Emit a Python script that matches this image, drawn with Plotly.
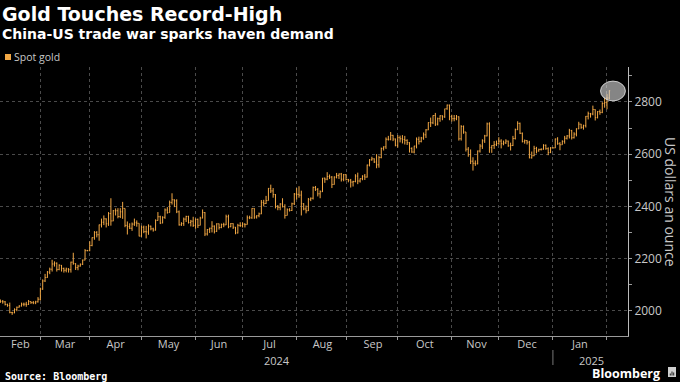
import pandas as pd
import plotly.graph_objects as go

title = "Gold Touches Record-High"
subtitle = "China-US trade war sparks haven demand"
series_name = "Spot gold"
source_text = "Source: Bloomberg"
brand_text = "Bloomberg"
y_title = "US dollars an ounce"
y_ticks = [2000, 2200, 2400, 2600, 2800]
year_labels = ["2024", "2025"]

start_date = "2024-02-07"
end_date = "2025-02-04"
first_open = 2037

close_feb24 = [2035, 2034, 2024, 2020, 1993, 1992, 2004, 2013, 2018, 2025, 2025, 2024, 2035, 2031, 2030, 2034, 2044]
high_feb24 = [2043, 2041, 2037, 2027, 2031, 1996, 2009, 2016, 2021, 2031, 2031, 2034, 2041, 2036, 2037, 2038, 2052]
low_feb24 = [2030, 2027, 2020, 2015, 1990, 1984, 1990, 1998, 2012, 2016, 2017, 2015, 2022, 2026, 2025, 2025, 2031]

close_mar24 = [2083, 2114, 2127, 2148, 2159, 2179, 2182, 2158, 2174, 2162, 2155, 2160, 2157, 2186, 2181, 2165, 2171, 2178, 2194, 2230, 2230]
high_mar24 = [2088, 2120, 2141, 2152, 2165, 2195, 2189, 2185, 2178, 2175, 2165, 2165, 2163, 2188, 2222, 2182, 2176, 2181, 2196, 2236, 2233]
low_mar24 = [2039, 2080, 2110, 2126, 2140, 2150, 2169, 2150, 2155, 2150, 2146, 2147, 2146, 2146, 2176, 2156, 2155, 2169, 2175, 2193, 2228]

close_apr24 = [2250, 2280, 2300, 2291, 2329, 2339, 2352, 2333, 2372, 2344, 2383, 2383, 2361, 2379, 2392, 2327, 2322, 2316, 2332, 2337, 2335, 2286]
high_apr24 = [2266, 2281, 2305, 2305, 2330, 2353, 2365, 2354, 2378, 2431, 2386, 2392, 2393, 2393, 2417, 2392, 2342, 2335, 2338, 2353, 2346, 2335]
low_apr24 = [2228, 2247, 2272, 2281, 2268, 2319, 2328, 2319, 2325, 2326, 2343, 2365, 2354, 2355, 2352, 2320, 2292, 2313, 2306, 2325, 2322, 2285]

close_may24 = [2320, 2303, 2302, 2324, 2314, 2309, 2346, 2360, 2336, 2358, 2386, 2376, 2415, 2425, 2421, 2379, 2329, 2334, 2351, 2361, 2338, 2343, 2327]
high_may24 = [2326, 2326, 2325, 2331, 2326, 2318, 2350, 2378, 2364, 2362, 2392, 2397, 2422, 2450, 2427, 2427, 2384, 2339, 2357, 2364, 2364, 2348, 2360]
low_may24 = [2283, 2297, 2277, 2291, 2308, 2303, 2307, 2345, 2332, 2335, 2352, 2372, 2376, 2407, 2397, 2374, 2326, 2325, 2325, 2340, 2334, 2323, 2321]

close_jun24 = [2350, 2327, 2355, 2376, 2294, 2311, 2316, 2324, 2304, 2333, 2319, 2330, 2329, 2360, 2322, 2334, 2320, 2298, 2327, 2326]
high_jun24 = [2354, 2353, 2360, 2388, 2378, 2313, 2318, 2343, 2327, 2335, 2334, 2334, 2337, 2368, 2368, 2336, 2335, 2321, 2333, 2339]
low_jun24 = [2314, 2317, 2327, 2354, 2286, 2288, 2298, 2300, 2296, 2302, 2311, 2316, 2320, 2328, 2316, 2320, 2313, 2293, 2296, 2321]

close_jul24 = [2332, 2330, 2356, 2356, 2392, 2359, 2364, 2371, 2415, 2411, 2422, 2469, 2459, 2445, 2400, 2396, 2409, 2398, 2365, 2387, 2384, 2410, 2447]
high_jul24 = [2339, 2335, 2365, 2364, 2393, 2393, 2366, 2376, 2424, 2425, 2440, 2470, 2483, 2470, 2447, 2405, 2412, 2431, 2408, 2392, 2393, 2414, 2451]
low_jul24 = [2319, 2319, 2330, 2351, 2352, 2352, 2353, 2358, 2370, 2400, 2409, 2422, 2451, 2433, 2392, 2385, 2385, 2396, 2353, 2365, 2380, 2382, 2405]

close_aug24 = [2446, 2443, 2410, 2390, 2383, 2427, 2431, 2472, 2465, 2448, 2456, 2508, 2504, 2514, 2512, 2484, 2512, 2518, 2524, 2504, 2521, 2503]
high_aug24 = [2470, 2477, 2460, 2412, 2403, 2432, 2434, 2476, 2478, 2470, 2461, 2509, 2510, 2531, 2522, 2516, 2515, 2528, 2526, 2528, 2524, 2524]
low_aug24 = [2426, 2433, 2365, 2385, 2373, 2382, 2420, 2426, 2459, 2438, 2431, 2455, 2490, 2500, 2505, 2470, 2483, 2507, 2505, 2495, 2496, 2499]

close_sep24 = [2500, 2493, 2495, 2516, 2497, 2506, 2516, 2512, 2558, 2578, 2582, 2570, 2559, 2587, 2622, 2628, 2657, 2657, 2672, 2658, 2634]
high_sep24 = [2505, 2505, 2498, 2523, 2529, 2507, 2519, 2524, 2560, 2581, 2590, 2584, 2600, 2594, 2625, 2630, 2664, 2670, 2685, 2674, 2660]
low_sep24 = [2492, 2472, 2476, 2492, 2485, 2491, 2500, 2501, 2510, 2553, 2575, 2566, 2546, 2548, 2584, 2614, 2620, 2652, 2653, 2650, 2630]

close_oct24 = [2663, 2659, 2656, 2653, 2644, 2622, 2608, 2631, 2657, 2649, 2662, 2674, 2693, 2721, 2720, 2748, 2715, 2736, 2747, 2743, 2774, 2788, 2744]
high_oct24 = [2673, 2671, 2673, 2670, 2657, 2646, 2626, 2632, 2664, 2667, 2666, 2683, 2696, 2722, 2740, 2749, 2758, 2740, 2749, 2749, 2774, 2790, 2790]
low_oct24 = [2625, 2645, 2641, 2637, 2635, 2606, 2605, 2603, 2622, 2637, 2645, 2655, 2662, 2692, 2704, 2715, 2708, 2710, 2724, 2730, 2739, 2770, 2730]

close_nov24 = [2736, 2736, 2743, 2659, 2706, 2685, 2619, 2598, 2573, 2565, 2563, 2612, 2631, 2651, 2670, 2716, 2625, 2633, 2636, 2641, 2650]
high_nov24 = [2751, 2750, 2750, 2745, 2711, 2710, 2685, 2627, 2618, 2588, 2576, 2614, 2639, 2657, 2674, 2721, 2722, 2634, 2650, 2652, 2665]
low_nov24 = [2725, 2726, 2730, 2652, 2652, 2678, 2610, 2590, 2562, 2537, 2555, 2561, 2606, 2620, 2643, 2668, 2605, 2605, 2620, 2631, 2636]

close_dec24 = [2640, 2643, 2650, 2632, 2633, 2660, 2694, 2718, 2680, 2648, 2652, 2646, 2586, 2594, 2622, 2612, 2618, 2619, 2634, 2621, 2606, 2624]
high_dec24 = [2657, 2652, 2657, 2652, 2644, 2670, 2698, 2726, 2721, 2683, 2656, 2654, 2651, 2610, 2632, 2628, 2621, 2622, 2638, 2637, 2626, 2627]
low_dec24 = [2622, 2634, 2639, 2628, 2614, 2631, 2656, 2692, 2677, 2645, 2640, 2637, 2584, 2583, 2592, 2603, 2610, 2614, 2617, 2617, 2596, 2604]

close_jan25 = [2624, 2658, 2640, 2636, 2649, 2661, 2670, 2690, 2663, 2677, 2697, 2715, 2703, 2709, 2745, 2755, 2754, 2771, 2740, 2763, 2760, 2794, 2798]
high_jan25 = [2626, 2660, 2665, 2646, 2653, 2670, 2673, 2697, 2693, 2684, 2699, 2724, 2716, 2713, 2746, 2763, 2758, 2786, 2772, 2765, 2771, 2799, 2817]
low_jan25 = [2622, 2623, 2636, 2615, 2636, 2640, 2656, 2660, 2656, 2660, 2668, 2696, 2697, 2694, 2702, 2733, 2740, 2749, 2729, 2737, 2751, 2757, 2778]

close_feb25 = [2815, 2843]
high_feb25 = [2830, 2845]
low_feb25 = [2772, 2810]

closes = (close_feb24 + close_mar24 + close_apr24 + close_may24 + close_jun24 + close_jul24
          + close_aug24 + close_sep24 + close_oct24 + close_nov24 + close_dec24 + close_jan25 + close_feb25)
highs = (high_feb24 + high_mar24 + high_apr24 + high_may24 + high_jun24 + high_jul24
         + high_aug24 + high_sep24 + high_oct24 + high_nov24 + high_dec24 + high_jan25 + high_feb25)
lows = (low_feb24 + low_mar24 + low_apr24 + low_may24 + low_jun24 + low_jul24
        + low_aug24 + low_sep24 + low_oct24 + low_nov24 + low_dec24 + low_jan25 + low_feb25)
opens = [first_open] + closes[:-1]

dates = pd.bdate_range(start_date, end_date)
assert len(dates) == len(closes) == len(highs) == len(lows), (len(dates), len(closes), len(highs), len(lows))

# visible x range (weekday axis)
x_range = [pd.Timestamp("2024-02-06 20:00"), pd.Timestamp("2025-02-13 22:30")]

# month labels centred in the visible part of each month
label_vals, label_text = [], []
for m in pd.date_range("2024-02-01", "2025-01-01", freq="MS"):
    seg_start = max(m, x_range[0].normalize() + pd.Timedelta(days=1))
    seg_end = min(m + pd.offsets.MonthEnd(0), x_range[1])
    bd = pd.bdate_range(seg_start, seg_end)
    half = len(bd) / 2
    k = int(half)
    label_vals.append(bd[k] + pd.Timedelta(days=half - k))
    label_text.append(m.strftime("%b"))

GOLD = "#f2a845"
TXT = "#c8c8c8"
GRID = "#4a4a4a"
AXIS = "#9a9a9a"

W, H = 680, 382
PL, PR, PT, PB = 0, 628, 67, 336


def px(x):
    return (x - PL) / (PR - PL)


def py(y):
    return (PB - y) / (PB - PT)


fig = go.Figure()
fig.add_trace(go.Ohlc(
    x=dates, open=opens, high=highs, low=lows, close=closes,
    name=series_name,
    increasing=dict(line=dict(color=GOLD, width=1)),
    decreasing=dict(line=dict(color=GOLD, width=1)),
    tickwidth=0.35,
    showlegend=False,
    hoverinfo="skip",
))

fig.update_layout(
    width=W, height=H,
    margin=dict(l=PL, r=W - PR, t=PT, b=H - PB),
    paper_bgcolor="#000000",
    plot_bgcolor="#000000",
    font=dict(family="Open Sans", color=TXT, size=12),
    showlegend=False,
    xaxis=dict(
        type="date",
        rangeslider=dict(visible=False),
        rangebreaks=[dict(bounds=["sat", "mon"])],
        range=[str(x_range[0]), str(x_range[1])],
        tickmode="array", tickvals=label_vals, ticktext=label_text,
        ticks="", showgrid=False, ticklabelstandoff=-2,
        minor=dict(tickmode="linear", tick0="2024-01-01", dtick="M1",
                   ticks="outside", ticklen=3, tickcolor=AXIS,
                   showgrid=True, gridcolor=GRID, griddash="dot", gridwidth=1),
        showline=True, linecolor=AXIS, linewidth=1,
        tickfont=dict(family="Open Sans", size=11, color=TXT),
        zeroline=False,
    ),
    yaxis=dict(
        side="right",
        range=[1903, 2934],
        tickvals=y_ticks,
        ticks="outside", ticklen=3, tickcolor=AXIS,
        minor=dict(dtick=100, tick0=2000, ticks="outside", ticklen=3, tickcolor=AXIS, showgrid=False),
        showgrid=True, gridcolor=GRID, griddash="dot", gridwidth=1,
        showline=True, linecolor="#bbbbbb", linewidth=1,
        tickfont=dict(family="Open Sans", size=12, color=TXT),
        zeroline=False,
    ),
)

annotations = [
    dict(text=f"<b>{title}</b>", x=px(1), y=py(14), xanchor="left", yanchor="middle",
         font=dict(family="DejaVu Sans", size=19, color="#ffffff")),
    dict(text=f"<b>{subtitle}</b>", x=px(1), y=py(34), xanchor="left", yanchor="middle",
         font=dict(family="DejaVu Sans", size=14, color="#ffffff")),
    dict(text=series_name, x=px(13), y=py(57), xanchor="left", yanchor="middle",
         font=dict(family="Open Sans", size=10.5, color=TXT)),
    dict(text=y_title, x=px(671), y=py(202), xanchor="center", yanchor="middle", textangle=90,
         font=dict(family="Open Sans", size=14, color=TXT)),
    dict(text=year_labels[0], x=px(277), y=py(360), xanchor="center", yanchor="middle",
         font=dict(family="Open Sans", size=11, color=TXT)),
    dict(text=year_labels[1], x=px(591), y=py(360), xanchor="center", yanchor="middle",
         font=dict(family="Open Sans", size=11, color=TXT)),
    dict(text=f"<b>{source_text}</b>", x=px(4), y=py(376), xanchor="left", yanchor="middle",
         font=dict(family="DejaVu Sans Mono", size=10, color="#ffffff")),
    dict(text=f"<b>{brand_text}</b>", x=px(661), y=py(373.5), xanchor="right", yanchor="middle",
         font=dict(family="Open Sans", size=12.5, color="#ffffff")),
]
for a in annotations:
    a.update(xref="paper", yref="paper", showarrow=False, borderpad=0)
fig.update_layout(annotations=annotations)

shapes = [
    # legend swatch
    dict(type="rect", xref="paper", yref="paper", x0=px(5), x1=px(11), y0=py(60), y1=py(54),
         fillcolor=GOLD, line=dict(width=0)),
    # year separator
    dict(type="line", xref="x", yref="paper", x0="2025-01-01", x1="2025-01-01", y0=py(350), y1=py(365),
         line=dict(color="#777777", width=1)),
    # highlight circle around record high
    dict(type="circle", xref="x", yref="y", x0="2025-01-29 06:00", x1="2025-02-12 20:00",
         y0=2804, y1=2880, fillcolor="rgba(215,215,215,0.62)",
         line=dict(color="rgba(235,235,235,0.8)", width=1), layer="above"),
    # brand icon
    dict(type="rect", xref="paper", yref="paper", x0=px(668), x1=px(676), y0=py(377), y1=py(367),
         fillcolor="#cfcfcf", line=dict(width=0)),
]
for bx, btop in [(670.3, 373.5), (672, 371.5), (673.7, 372.5)]:
    shapes.append(dict(type="line", xref="paper", yref="paper", x0=px(bx), x1=px(bx),
                       y0=py(375.5), y1=py(btop), line=dict(color="#222222", width=1)))
fig.update_layout(shapes=shapes)

fig.write_html("out.html", config={"displayModeBar": False},
               post_script="document.body.style.margin='0px';")
